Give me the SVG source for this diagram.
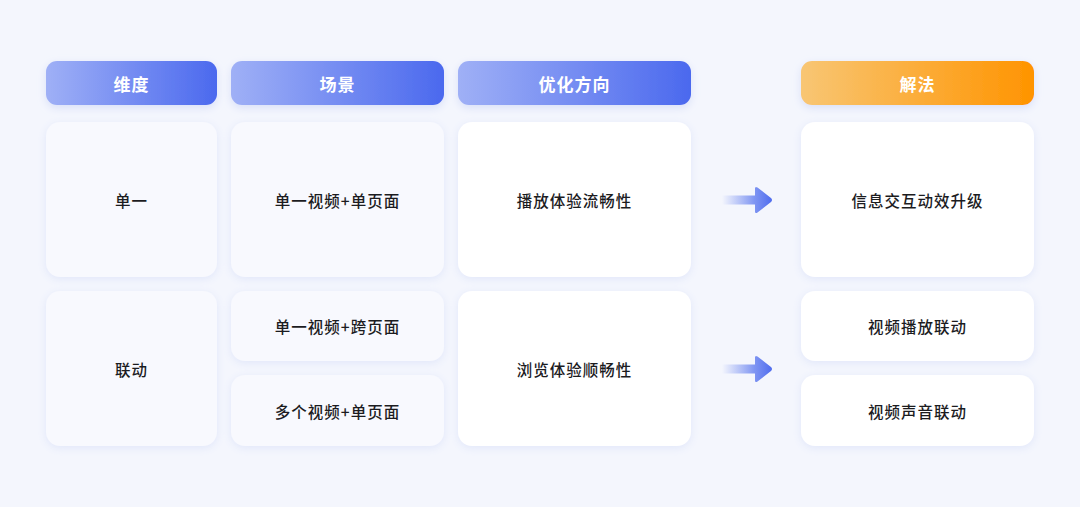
<svg xmlns="http://www.w3.org/2000/svg" width="1080" height="507" viewBox="0 0 1080 507">
<defs>
<linearGradient id="gBlue" x1="0" y1="0" x2="1" y2="0">
<stop offset="0" stop-color="#9fb0f6"/>
<stop offset="1" stop-color="#4b69ee"/>
</linearGradient>
<linearGradient id="gOrange" x1="0" y1="0" x2="1" y2="0">
<stop offset="0" stop-color="#f8c674"/>
<stop offset="1" stop-color="#ff9400"/>
</linearGradient>
<linearGradient id="gArrow" gradientUnits="userSpaceOnUse" x1="722" y1="0" x2="772" y2="0">
<stop offset="0" stop-color="#6f88f0" stop-opacity="0"/>
<stop offset="0.65" stop-color="#6a84f0" stop-opacity="0.85"/>
<stop offset="1" stop-color="#4f6cee"/>
</linearGradient>
<filter id="sh" x="-20%" y="-20%" width="140%" height="140%">
<feDropShadow dx="0" dy="2" stdDeviation="4" flood-color="#c9d3f5" flood-opacity="0.45"/>
</filter>
<filter id="shH" x="-20%" y="-30%" width="140%" height="160%">
<feDropShadow dx="0" dy="3" stdDeviation="4" flood-color="#b8c4f2" flood-opacity="0.45"/>
</filter>
</defs>
<style>
.card{fill:#f8f9fe;filter:url(#sh);}
.cardw{fill:#ffffff;filter:url(#sh);}
.hb{fill:url(#gBlue);filter:url(#shH);}
.ho{fill:url(#gOrange);filter:url(#shH);}
.ht{font-family:"Noto Sans CJK SC","Noto Sans",sans-serif;font-size:17px;font-weight:700;fill:#ffffff;text-anchor:middle;dominant-baseline:central;letter-spacing:1px;}
.t{font-family:"Noto Sans CJK SC","Noto Sans",sans-serif;font-size:15.5px;font-weight:500;fill:#1c1c1f;text-anchor:middle;dominant-baseline:central;letter-spacing:1px;}
.arr{fill:url(#gArrow);}
</style>
<rect width="1080" height="507" fill="#f4f6fd"/>

<g id="header-dim"><rect class="hb" x="46" y="61" width="171" height="44" rx="11"/><text class="ht" x="131.5" y="83">维度</text></g>
<g id="header-scene"><rect class="hb" x="231" y="61" width="213" height="44" rx="11"/><text class="ht" x="337.5" y="83">场景</text></g>
<g id="header-opt"><rect class="hb" x="458" y="61" width="233" height="44" rx="11"/><text class="ht" x="574.5" y="83">优化方向</text></g>
<g id="header-sol"><rect class="ho" x="801" y="61" width="233" height="44" rx="11"/><text class="ht" x="917.5" y="83">解法</text></g>

<g id="dim-single"><rect class="card" x="46" y="122" width="171" height="155" rx="14"/><text class="t" x="131.5" y="200">单一</text></g>
<g id="dim-linked"><rect class="card" x="46" y="291" width="171" height="155" rx="14"/><text class="t" x="131.5" y="369">联动</text></g>

<g id="scene-1"><rect class="card" x="231" y="122" width="213" height="155" rx="14"/><text class="t" x="337.5" y="200">单一视频+单页面</text></g>
<g id="scene-2"><rect class="card" x="231" y="291" width="213" height="70" rx="14"/><text class="t" x="337.5" y="326">单一视频+跨页面</text></g>
<g id="scene-3"><rect class="card" x="231" y="375" width="213" height="71" rx="14"/><text class="t" x="337.5" y="410.5">多个视频+单页面</text></g>

<g id="opt-1"><rect class="cardw" x="458" y="122" width="233" height="155" rx="14"/><text class="t" x="574.5" y="200">播放体验流畅性</text></g>
<g id="opt-2"><rect class="cardw" x="458" y="291" width="233" height="155" rx="14"/><text class="t" x="574.5" y="369">浏览体验顺畅性</text></g>

<g id="sol-1"><rect class="cardw" x="801" y="122" width="233" height="155" rx="14"/><text class="t" x="917.5" y="200">信息交互动效升级</text></g>
<g id="sol-2"><rect class="cardw" x="801" y="291" width="233" height="70" rx="14"/><text class="t" x="917.5" y="326">视频播放联动</text></g>
<g id="sol-3"><rect class="cardw" x="801" y="375" width="233" height="71" rx="14"/><text class="t" x="917.5" y="410.5">视频声音联动</text></g>

<g id="connectors">
<path class="arr" d="M722 195.5 H755 V188.5 Q755 186 757.5 187.5 L771 198 Q773 200 771 202 L757.5 212.5 Q755 214 755 211.5 V204.5 H722 Z"/>
<path class="arr" d="M722 364.5 H755 V357.5 Q755 355 757.5 356.5 L771 367 Q773 369 771 371 L757.5 381.5 Q755 383 755 380.5 V373.5 H722 Z"/>
</g>
</svg>
